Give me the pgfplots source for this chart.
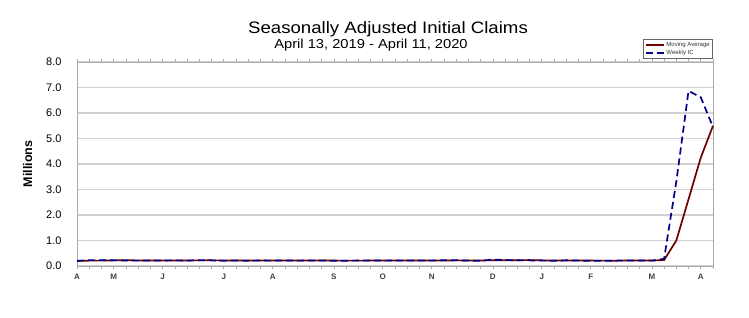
\documentclass[border=0pt]{standalone}
\usepackage{pgfplots}
\pgfplotsset{compat=1.18}
\usepackage{pgfplotstable}
\usepackage{fontspec}
\setmainfont{Liberation Sans}
\newfontfamily\titlefont{Liberation Sans}[FakeStretch=1.13]
\definecolor{marepl}{RGB}{110,0,0}
\definecolor{icblue}{RGB}{0,0,140}
\definecolor{gridc}{RGB}{210,210,210}
\definecolor{axc}{RGB}{170,170,170}

\pgfplotstableread{
wk ic ma
0 0.196 0.206
1 0.230 0.210
2 0.230 0.212
3 0.228 0.220
4 0.212 0.225
5 0.211 0.220
6 0.215 0.216
7 0.218 0.214
8 0.222 0.216
9 0.216 0.218
10 0.227 0.221
11 0.221 0.222
12 0.209 0.218
13 0.216 0.218
14 0.206 0.213
15 0.215 0.212
16 0.209 0.212
17 0.220 0.213
18 0.210 0.214
19 0.215 0.214
20 0.217 0.216
21 0.204 0.212
22 0.208 0.211
23 0.213 0.211
24 0.219 0.212
25 0.210 0.213
26 0.214 0.214
27 0.218 0.215
28 0.217 0.215
29 0.211 0.215
30 0.225 0.218
31 0.227 0.220
32 0.213 0.219
33 0.203 0.217
34 0.252 0.224
35 0.235 0.226
36 0.222 0.228
37 0.220 0.232
38 0.212 0.222
39 0.207 0.215
40 0.223 0.215
41 0.216 0.212
42 0.201 0.212
43 0.205 0.211
44 0.210 0.209
45 0.219 0.213
46 0.216 0.213
47 0.211 0.214
48 0.282 0.232
49 3.307 0.998
50 6.867 2.620
51 6.615 4.250
52 5.450 5.500
}\claims

\begin{document}
\begin{tikzpicture}
\path[use as bounding box] (0,0) rectangle (749bp,318bp);
\node[font=\titlefont\fontsize{16.5bp}{18bp}\selectfont] at (388bp,289bp) {Seasonally Adjusted Initial Claims};
\node[font=\titlefont\fontsize{13bp}{15bp}\selectfont] at (371bp,273bp) {April 13, 2019 - April 11, 2020};
\begin{axis}[
  at={(77bp,52bp)}, anchor=south west,
  width=636bp, height=204bp, scale only axis,
  xmin=0, xmax=52, ymin=0, ymax=8,
  axis line style={axc, line width=1bp},
  ytick={0,1,...,8},
  /pgf/number format/fixed,
  /pgf/number format/fixed zerofill,
  /pgf/number format/precision=1,
  /pgf/number format/assume math mode=true,
  yticklabel style={font=\fontsize{11bp}{12bp}\selectfont, xshift=-9bp},
  ymajorgrids, grid style={gridc, line width=1.1bp},
  major y tick style={draw=none},
  xtick={0,3,7,12,16,21,25,29,34,38,42,47,51},
  xticklabels={A,M,J,J,A,S,O,N,D,J,F,M,A},
  xticklabel style={font=\bfseries\fontsize{8bp}{9bp}\selectfont, text=black!75, yshift=-1bp},
  minor xtick={0,1,...,52},
  tick align=outside,
  major x tick style={axc, line width=0.6bp},
  minor x tick style={axc, line width=0.6bp},
  major tick length=3bp, minor tick length=3bp,
  ylabel={\bfseries Millions},
  ylabel style={font=\fontsize{12.5bp}{14bp}\selectfont, yshift=7bp},
  legend style={at={(1,1.015)}, anchor=south east, font=\fontsize{6bp}{7bp}\selectfont,
    draw=black!60, line width=0.6bp, inner sep=1bp, row sep=-2bp, text=black!80,
    legend cell align=left},
  legend image code/.code={\draw[#1] (0bp,0bp) -- (18bp,0bp);},
  clip=false,
]
\addplot[marepl, line width=1.7bp] table[x=wk, y=ma] {\claims};
\addlegendentry{Moving Average}
\addplot[icblue, line width=1.7bp, dash pattern=on 7bp off 4bp] table[x=wk, y=ic] {\claims};
\addlegendentry{Weekly IC}
\end{axis}
\end{tikzpicture}
\end{document}
